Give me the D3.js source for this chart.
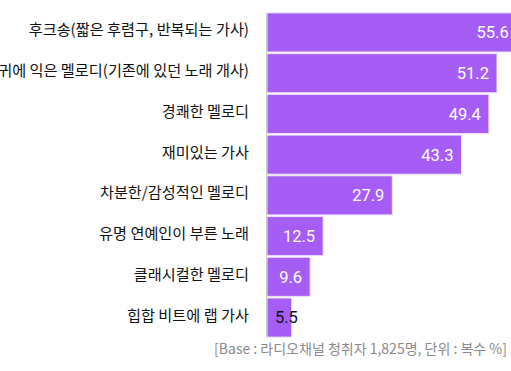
<!DOCTYPE html>
<html>
<head>
<meta charset="utf-8">
<script src="https://cdn.jsdelivr.net/npm/d3@7"></script>
<style>
  body { margin: 0; background: #fff; }
  svg { display: block; }
</style>
</head>
<body>
<div id="chart"></div>
<script>
// chart data
var categories = [
  "후크송(짧은 후렴구, 반복되는 가사)",
  "귀에 익은 멜로디(기존에 있던 노래 개사)",
  "경쾌한 멜로디",
  "재미있는 가사",
  "차분한/감성적인 멜로디",
  "유명 연예인이 부른 노래",
  "클래시컬한 멜로디",
  "힙합 비트에 랩 가사"
];
var values = [55.6, 51.2, 49.4, 43.3, 27.9, 12.5, 9.6, 5.5];
var note = "[Base : 라디오채널 청취자 1,825명, 단위 : 복수 %]";

var width = 511,
    height = 371;

var svg = d3.select("#chart")
    .append("svg")
    .attr("width", width)
    .attr("height", height);

// x: value -> pixels, y: category bands
var x = d3.scaleLinear()
    .domain([0, 60])
    .range([267, 536.5]);

var y = d3.scaleBand()
    .domain(categories)
    .range([12.5, 337.5])
    .paddingInner(0.04)
    .paddingOuter(0.01);

// bars
svg.selectAll("rect.bar")
    .data(values)
    .enter()
    .append("rect")
    .attr("class", "bar")
    .attr("x", x(0))
    .attr("y", function(d, i) { return y(categories[i]); })
    .attr("width", function(d) { return x(d) - x(0); })
    .attr("height", y.bandwidth())
    .attr("fill", "#a65df5")
    .attr("stroke", "#ece2f8")
    .attr("stroke-width", 1);

// axis line on the left of the bars
svg.append("line")
    .attr("x1", x(0) - 0.5)
    .attr("x2", x(0) - 0.5)
    .attr("y1", y.range()[0])
    .attr("y2", y.range()[1])
    .attr("stroke", "#cfcfcf")
    .attr("stroke-width", 1);

// category labels (sit a little above the bar centre)
svg.selectAll("text.cat")
    .data(categories)
    .enter()
    .append("text")
    .attr("class", "cat")
    .attr("x", x(0) - 18)
    .attr("y", function(d) { return y(d) + y.bandwidth() / 2 - 2.5; })
    .attr("dy", "0.36em")
    .attr("text-anchor", "end")
    .style("font-family", "'Noto Sans CJK KR', sans-serif")
    .style("font-size", "15.2px")
    .style("fill", "#111")
    .text(function(d) { return d; });

// value labels (small bars get a dark label starting at the bar base)
svg.selectAll("text.val")
    .data(values)
    .enter()
    .append("text")
    .attr("class", "val")
    .attr("x", function(d) { return d < 8 ? x(0) + 8 : x(d) - 8; })
    .attr("y", function(d, i) { return y(categories[i]) + y.bandwidth() / 2; })
    .attr("dy", "0.36em")
    .attr("text-anchor", function(d) { return d < 8 ? "start" : "end"; })
    .style("font-family", "Roboto, sans-serif")
    .style("font-size", "16.5px")
    .style("fill", function(d) { return d < 8 ? "#111" : "#fff"; })
    .text(function(d) { return d; });

// footnote
svg.append("text")
    .attr("x", 507)
    .attr("y", 354)
    .attr("text-anchor", "end")
    .style("font-family", "'Noto Sans CJK KR', sans-serif")
    .style("font-size", "14px")
    .style("fill", "#8a8a8a")
    .text(note);
</script>
</body>
</html>
